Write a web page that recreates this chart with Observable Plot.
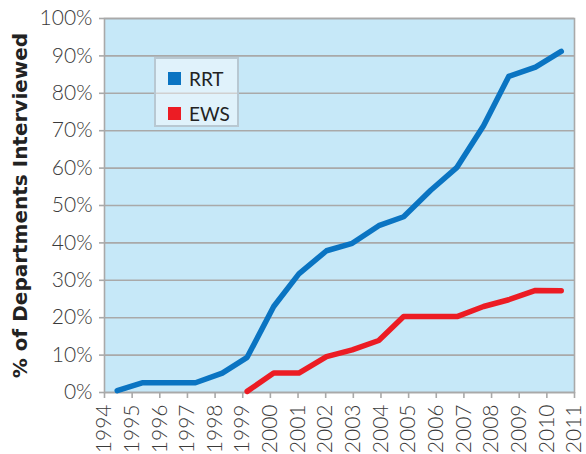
<!DOCTYPE html>
<html>
<head>
<meta charset="utf-8">
<script src="https://cdn.jsdelivr.net/npm/d3@7"></script>
<script src="https://cdn.jsdelivr.net/npm/@observablehq/plot@0.6"></script>
<style>
  html, body { margin: 0; padding: 0; background: #fff; }
  #wrap { position: relative; width: 586px; height: 454px; overflow: hidden; }
  #legend { position: absolute; left: 154px; top: 57px; width: 81px; height: 66px;
    background: rgba(255,255,255,0.45); border: 2px solid #b8c8d2; box-sizing: content-box;
    font-family: Lato, "Open Sans", sans-serif; font-size: 19px; color: #222; }
  .item { position: absolute; left: 12px; display: flex; align-items: center; }
  .sw { width: 13px; height: 13px; margin-right: 8px; }
</style>
</head>
<body>
<div id="wrap"><div id="chart"></div><div id="legend"></div></div>
<script>
const years = [1994.46, 1995.36, 1996.33, 1997.29, 1998.26, 1999.16, 2000.12, 2001.03, 2002.03, 2002.96, 2003.92, 2004.82, 2005.79, 2006.75, 2007.71, 2008.62, 2009.59, 2010.52];
const rrt = [0.5, 2.6, 2.6, 2.6, 5.2, 9.4, 23, 31.7, 37.9, 39.9, 44.6, 47, 54, 60.2, 71.3, 84.5, 87, 91.2];
const ewsYears = [1999.16, 2000.12, 2001.03, 2002.03, 2002.96, 2003.92, 2004.82, 2005.79, 2006.75, 2007.71, 2008.62, 2009.59, 2010.52];
const ews = [0.3, 5.2, 5.2, 9.6, 11.4, 13.9, 20.3, 20.3, 20.3, 23, 24.8, 27.3, 27.2];
const yearTicks = [1994, 1995, 1996, 1997, 1998, 1999, 2000, 2001, 2002, 2003, 2004, 2005, 2006, 2007, 2008, 2009, 2010, 2011];
const pctTicks = [0, 10, 20, 30, 40, 50, 60, 70, 80, 90, 100];
const seriesNames = ["RRT", "EWS"];
const seriesColors = ["#0a74c2", "#ec1c24"];

const rrtData = years.map((x, i) => ({x, y: rrt[i]}));
const ewsData = ewsYears.map((x, i) => ({x, y: ews[i]}));
const grid = "#a9a9a9";

const chart = Plot.plot({
  width: 586,
  height: 454,
  marginLeft: 104,
  marginRight: 12,
  marginTop: 18,
  marginBottom: 62,
  style: { fontFamily: "Lato, 'Open Sans', sans-serif", fontSize: "21px", fontWeight: 300, background: "#fff", overflow: "visible" },
  x: { domain: [1994, 2011] },
  y: { domain: [0, 100] },
  marks: [
    Plot.frame({ fill: "#c6e8f8" }),
    Plot.ruleY(pctTicks, { stroke: grid, strokeWidth: 1.6 }),
    Plot.frame({ stroke: grid, strokeWidth: 1.6 }),
    Plot.line(rrtData, { x: "x", y: "y", stroke: seriesColors[0], strokeWidth: 5.5, strokeLinecap: "round", strokeLinejoin: "round" }),
    Plot.line(ewsData, { x: "x", y: "y", stroke: seriesColors[1], strokeWidth: 5.5, strokeLinecap: "round", strokeLinejoin: "round" }),
    Plot.axisY({ ticks: pctTicks, tickFormat: d => d + "%", tickSize: 5, tickPadding: 7, stroke: grid, strokeWidth: 1.6, fill: "#3a3a3a", fontSize: 21,
      label: "% of Departments Interviewed", labelAnchor: "center", labelOffset: 92, labelArrow: "none" }),
    Plot.axisX({ ticks: yearTicks, tickFormat: d => String(d), tickSize: 6, tickPadding: 6, tickRotate: -90, stroke: grid, strokeWidth: 1.6, fill: "#3a3a3a", fontSize: 21, label: null })
  ]
});
document.getElementById("chart").appendChild(chart);
chart.querySelectorAll('g[aria-label="y-axis label"] text').forEach(t => {
  t.setAttribute("font-weight", "bold");
  t.style.fontWeight = "bold";
  t.style.fontFamily = "'DejaVu Sans', 'Open Sans', sans-serif";
  t.style.fontSize = "20px";
  t.style.fill = "#222";
});

const legend = document.getElementById("legend");
seriesNames.forEach((name, i) => {
  const it = document.createElement("div");
  it.className = "item";
  it.style.top = (i === 0 ? 8 : 43) + "px";
  it.innerHTML = `<div class="sw" style="background:${seriesColors[i]}"></div><span>${name}</span>`;
  legend.appendChild(it);
});
</script>
</body>
</html>
